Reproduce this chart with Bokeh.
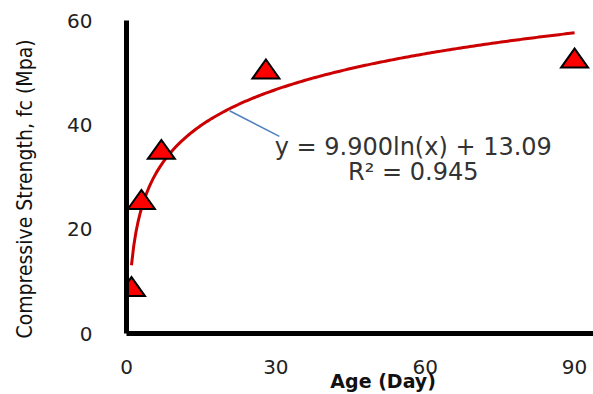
import numpy as np
from bokeh.plotting import figure
from bokeh.models import Range1d, FixedTicker, Label
from bokeh.embed import file_html
from bokeh.resources import INLINE

age_days = [1, 3, 7, 28, 90]
strength = [9.0, 25.7, 35.3, 50.7, 52.8]
fit_a = 9.900
fit_b = 13.09
r_squared = 0.945
x_ticks = [0, 30, 60, 90]
y_ticks = [0, 20, 40, 60]

X_MAX = 93.8
Y_MAX = 60
FRAME_W = 593 - 126
FRAME_H = 313
NBSP = "\u00a0"

p = figure(width=593, height=394, output_backend="svg", toolbar_location=None,
           x_range=Range1d(0, X_MAX), y_range=Range1d(0, Y_MAX),
           min_border_left=126, min_border_right=0, min_border_top=20, min_border_bottom=61)
p.outline_line_color = None
p.xgrid.visible = False
p.ygrid.visible = False

for ax in (p.xaxis[0], p.yaxis[0]):
    ax.axis_line_width = 5
    ax.axis_line_color = "black"
    ax.major_tick_line_color = None
    ax.minor_tick_line_color = None
    ax.major_label_text_font = "DejaVu Sans"
    ax.major_label_text_font_size = "20px"
    ax.major_label_text_color = "#222222"

p.xaxis.ticker = FixedTicker(ticks=x_ticks)
p.yaxis.ticker = FixedTicker(ticks=y_ticks)
p.xaxis.major_label_standoff = 20
p.yaxis.major_label_standoff = 28

# leading no-break spaces shift the centred title to the right, as in the original
p.xaxis.axis_label = NBSP * 7 + "Age (Day)"
p.xaxis.axis_label_text_font = "DejaVu Sans"
p.xaxis.axis_label_text_font_style = "bold"
p.xaxis.axis_label_text_font_size = "19px"
p.xaxis.axis_label_standoff = -7
p.xaxis.axis_label_text_color = "#111111"

p.yaxis.axis_label = "Compressive Strength, fc (Mpa)" + NBSP * 4
p.yaxis.axis_label_text_font = "'DejaVu Sans Condensed', 'Roboto', sans-serif"
p.yaxis.axis_label_text_font_style = "normal"
p.yaxis.axis_label_text_font_size = "21px"
p.yaxis.axis_label_standoff = 27
p.yaxis.axis_label_text_color = "#111111"

xs = np.linspace(1, 90, 200)
p.line(xs, fit_a * np.log(xs) + fit_b, line_color="#CC0000", line_width=3)

# flattened triangle markers (27 px wide, 19 px tall), built from the data values
hw = 13.5 * X_MAX / FRAME_W
hh = 9.5 * Y_MAX / FRAME_H
tri_x = [[x - hw, x + hw, x] for x in age_days]
tri_y = [[y - hh, y - hh, y + hh] for y in strength]
p.patches(tri_x, tri_y, fill_color="#FF0000", line_color="black", line_width=2,
          line_join="miter")

p.segment(x0=[20.7], y0=[42.7], x1=[30.7], y1=[37.8], line_color="#4F81BD", line_width=1.5)

eq = "y = %.3fln(x) + %.2f" % (fit_a, fit_b)
p.add_layout(Label(x=57.6, y=35.7, text=eq, text_align="center", text_baseline="middle",
                   text_font="DejaVu Sans", text_font_size="24px", text_color="#333333"))
p.add_layout(Label(x=57.6, y=30.9, text="R² = %.3f" % r_squared, text_align="center",
                   text_baseline="middle", text_font="DejaVu Sans", text_font_size="24px",
                   text_color="#333333"))

open("out.html", "w").write(file_html(p, INLINE))
